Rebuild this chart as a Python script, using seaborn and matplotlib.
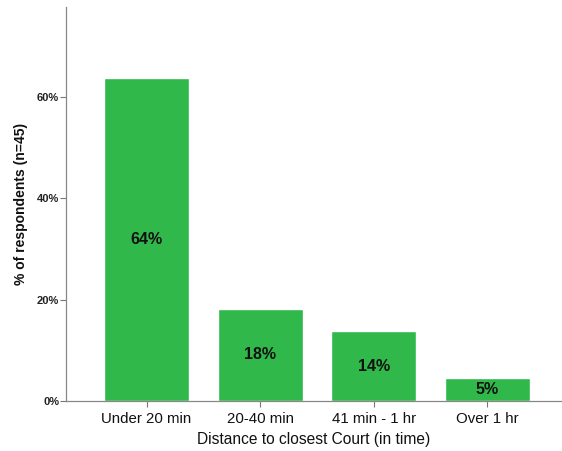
import matplotlib
matplotlib.use('Agg')
import matplotlib.pyplot as plt
import seaborn as sns
import pandas as pd
from matplotlib.ticker import FuncFormatter

categories = ['Under 20 min', '20-40 min', '41 min - 1 hr', 'Over 1 hr']
percents = [63.8, 18.2, 13.8, 4.5]
bar_labels = ['64%', '18%', '14%', '5%']

sns.set_theme(style='white')
plt.rcParams['font.family'] = ['Liberation Sans', 'DejaVu Sans']

df = pd.DataFrame({'cat': categories, 'pct': percents})

fig = plt.figure(figsize=(5.62, 4.51), dpi=100)
ax = fig.add_axes([0.1174, 0.1109, 0.8826, 0.8736])

sns.barplot(data=df, x='cat', y='pct', color='#31b84b', saturation=1,
            width=0.75, ax=ax)

for i, (v, lab) in enumerate(zip(percents, bar_labels)):
    ax.text(i, v / 2, lab, ha='center', va='center', fontsize=11.5,
            fontweight='bold', color='#111111')

ax.set_xlim(-0.71, 3.66)
ax.set_ylim(0, 77.8)
ax.set_yticks([0, 20, 40, 60])
ax.yaxis.set_major_formatter(FuncFormatter(lambda v, p: f'{v:.0f}%'))
for t in ax.get_yticklabels():
    t.set_family(['Liberation Sans Narrow', 'Liberation Sans'])
    t.set_fontweight('bold')
    t.set_fontsize(8)
ax.tick_params(axis='y', length=4, width=0.8, color='#777777', pad=1,
               left=True, labelcolor='#222222')
ax.tick_params(axis='x', length=4, width=0.8, color='#777777', pad=4,
               bottom=True, labelsize=10.8, labelcolor='#111111')

ax.set_xlabel('Distance to closest Court (in time)', fontsize=11.2,
              color='#111111', labelpad=4)
ax.set_ylabel('% of respondents (n=45)', fontsize=10, fontweight='bold',
              color='#111111', labelpad=6)

for s in ['top', 'right']:
    ax.spines[s].set_visible(False)
for s in ['left', 'bottom']:
    ax.spines[s].set_color('#888888')
    ax.spines[s].set_linewidth(0.9)

fig.savefig('out.png', dpi=100)
